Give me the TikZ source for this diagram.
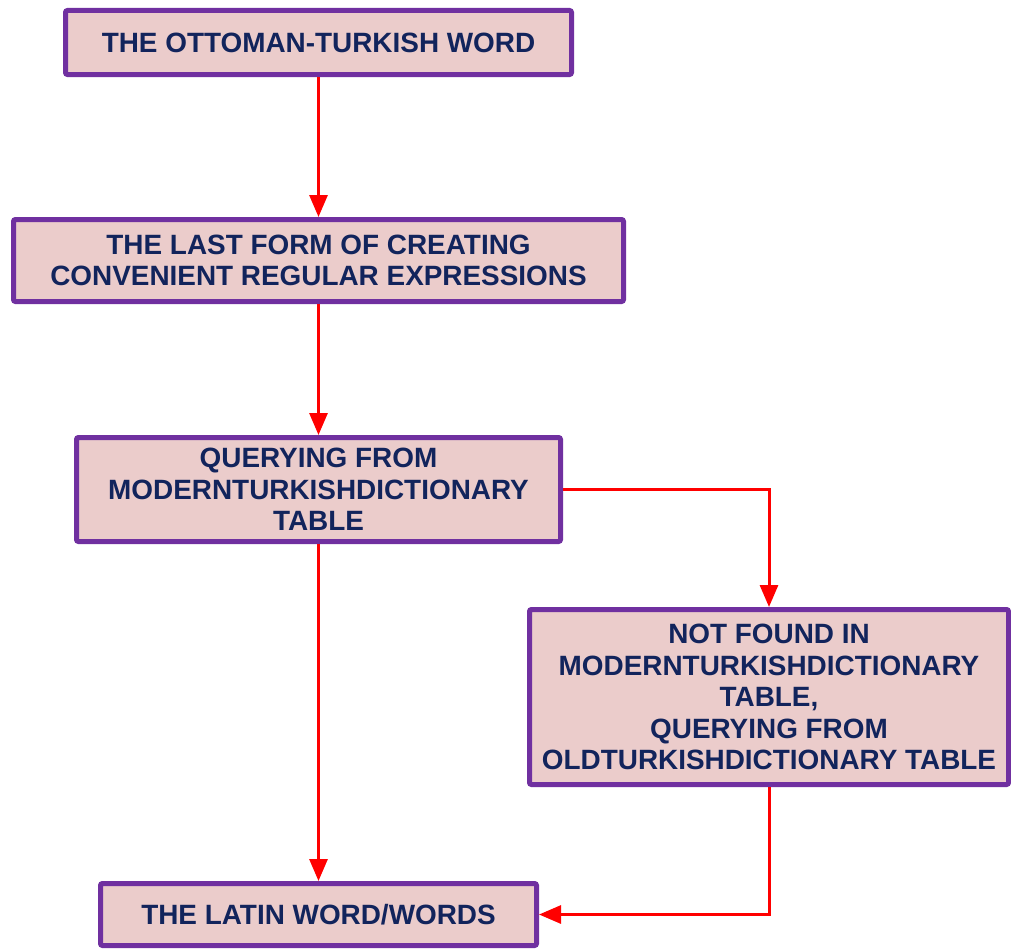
\documentclass[tikz,border=0pt]{standalone}
\usepackage{fontspec}
\setmainfont{Liberation Sans}
\usetikzlibrary{arrows.meta}
\definecolor{boxfill}{RGB}{235,204,203}
\definecolor{boxline}{RGB}{112,48,160}
\definecolor{boxtext}{RGB}{18,36,92}
\definecolor{arrowred}{RGB}{255,0,0}
\tikzset{
  flowbox/.style={draw=boxline, fill=boxfill, line width=5pt, rounded corners=2pt,
    align=center, inner sep=0pt, text=boxtext,
    font=\fontsize{27.9}{31.6}\selectfont\bfseries},
  flowarrow/.style={draw=arrowred, line width=3pt,
    -{Triangle[width=18pt,length=22pt]}}
}
\begin{document}
\begin{tikzpicture}[x=1pt,y=-1pt]
\useasboundingbox (0,0) rectangle (1011,950);
\node[flowbox, minimum width=506pt, minimum height=64pt] (b1) at (318.5,42.5)
  {THE OTTOMAN-TURKISH WORD};
\node[flowbox, minimum width=610pt, minimum height=82pt] (b2) at (318.5,260.5)
  {THE LAST FORM OF CREATING\\CONVENIENT REGULAR EXPRESSIONS};
\node[flowbox, minimum width=484pt, minimum height=104pt] (b3) at (318.5,489.5)
  {QUERYING FROM\\MODERNTURKISHDICTIONARY\\TABLE};
\node[flowbox, minimum width=479pt, minimum height=175pt] (b4) at (769,697)
  {NOT FOUND IN\\MODERNTURKISHDICTIONARY\\TABLE,\\QUERYING FROM\\OLDTURKISHDICTIONARY TABLE};
\node[flowbox, minimum width=436pt, minimum height=62pt] (b5) at (318.5,914.5)
  {THE LATIN WORD/WORDS};
\draw[flowarrow] (b1.south) -- (b2.north);
\draw[flowarrow] (b2.south) -- (b3.north);
\draw[flowarrow] (b3.south) -- (b5.north);
\draw[flowarrow] (b3.east) -| (b4.north);
\draw[flowarrow] (b4.south) |- (b5.east);
\end{tikzpicture}
\end{document}
